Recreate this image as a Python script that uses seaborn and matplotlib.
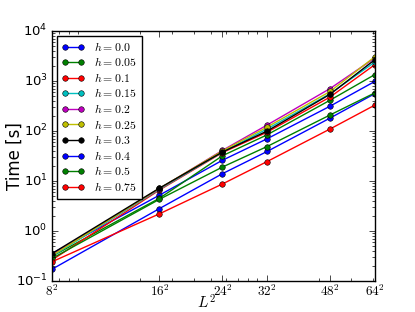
import numpy as np
import pandas as pd
import matplotlib
matplotlib.use("Agg")
import matplotlib.pyplot as plt
import seaborn as sns
from matplotlib.ticker import FixedLocator, FixedFormatter

# system sizes L and their squares (x axis)
L = [8, 16, 24, 32, 48, 64]
L2 = [n * n for n in L]

h_labels = ["0.0", "0.05", "0.1", "0.15", "0.2", "0.25", "0.3", "0.4", "0.5", "0.75"]
colors = ["b", "g", "r", "c", "m", "y", "k", "b", "g", "r"]

# run times in seconds
t_h000 = [0.35, 5.2, 26, 70, 315, 985]
t_h005 = [0.31, 4.5, 32, 84, 415, 1350]
t_h010 = [0.26, 6.6, 37, 95, 480, 2130]
t_h015 = [0.31, 6.8, 38, 110, 560, 2400]
t_h020 = [0.33, 7.0, 41, 132, 710, 2900]
t_h025 = [0.32, 7.1, 40, 120, 620, 3070]
t_h030 = [0.35, 7.2, 38, 100, 545, 2680]
t_h040 = [0.17, 2.8, 14, 39, 182, 560]
t_h050 = [0.28, 4.3, 19, 49, 210, 580]
t_h075 = [0.24, 2.2, 8.7, 24.5, 110, 330]

times = [t_h000, t_h005, t_h010, t_h015, t_h020, t_h025, t_h030, t_h040, t_h050, t_h075]

rows = []
for h, t in zip(h_labels, times):
    for x, y in zip(L2, t):
        rows.append({"L2": x, "time": y, "h": h})
df = pd.DataFrame(rows)

plt.style.use("classic")
plt.rcParams["figure.facecolor"] = "white"
plt.rcParams["savefig.facecolor"] = "white"
plt.rcParams["mathtext.fontset"] = "dejavusans"

fig = plt.figure(figsize=(4.15, 3.12), dpi=100)
ax = fig.add_axes([0.125, 0.1, 0.778, 0.8])

sns.lineplot(data=df, x="L2", y="time", hue="h", hue_order=h_labels,
             palette=dict(zip(h_labels, colors)), marker="o", markersize=4,
             markeredgecolor="k", markeredgewidth=0.4, linewidth=1,
             legend=False, ax=ax)

ax.set_xscale("log")
ax.set_yscale("log")
ax.set_xlim(64, 4096)
ax.set_ylim(0.1, 1e4)

ax.xaxis.set_major_locator(FixedLocator(L2))
ax.xaxis.set_major_formatter(FixedFormatter([f"${n}^2$" for n in L]))
for lab in ax.get_xticklabels():
    lab.set_math_fontfamily("cm")
    lab.set_fontsize(9.5)
ax.tick_params(axis="y", labelsize=9.5, pad=3)
ax.tick_params(axis="x", pad=2)

ax.set_xlabel("$L^2$", fontsize=11, math_fontfamily="cm")
ax.xaxis.set_label_coords(0.48, -0.05)
ax.set_ylabel("Time [s]", fontsize=12)
ax.yaxis.set_label_coords(-0.088, 0.5)

leg = ax.legend(ax.lines, [f"$h={v}$" for v in h_labels],
                loc="upper left", fontsize=8.5, numpoints=2,
                handlelength=2.0, labelspacing=0.22, borderpad=0.4,
                handletextpad=0.8, borderaxespad=0.4, frameon=True)
for txt in leg.get_texts():
    txt.set_math_fontfamily("cm")

fig.savefig("out.png", dpi=100)
